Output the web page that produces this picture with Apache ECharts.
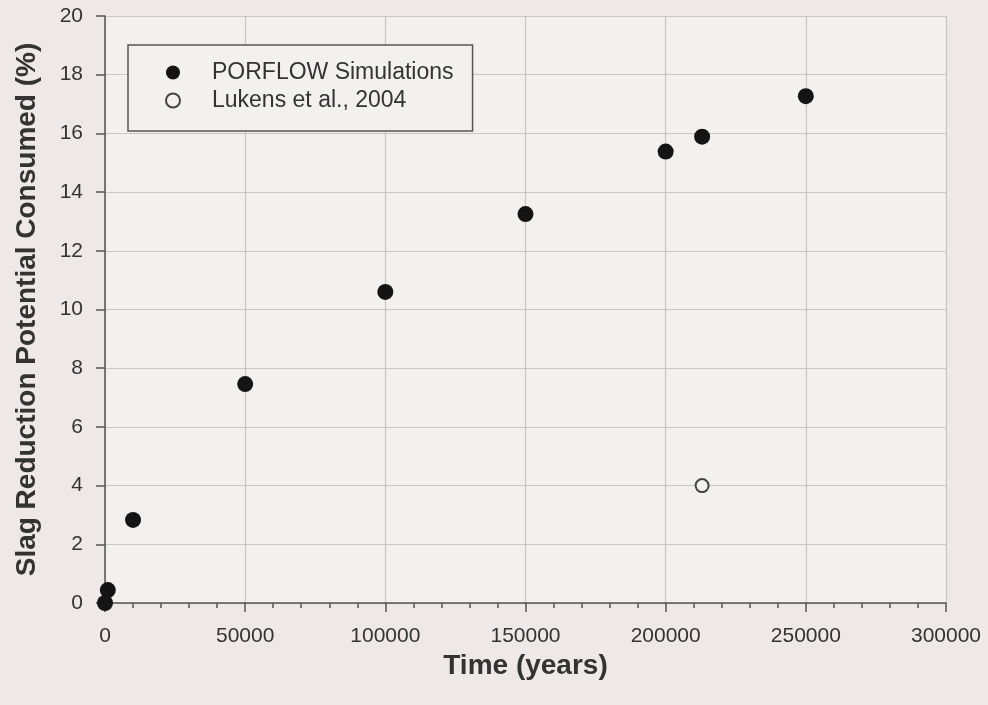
<!DOCTYPE html>
<html>
<head>
<meta charset="utf-8">
<script src="https://cdn.jsdelivr.net/npm/echarts@6/dist/echarts.min.js"></script>
<style>html,body{margin:0;padding:0;background:#eee8e8;}#c{width:988px;height:705px;}</style>
</head>
<body>
<div id="c"></div>
<script>
const porflowTime = [0, 1000, 10000, 50000, 100000, 150000, 200000, 213000, 250000];
const porflowValue = [0, 0.44, 2.83, 7.46, 10.6, 13.25, 15.38, 15.89, 17.27];
const lukensTime = [213000];
const lukensValue = [4.0];
const seriesNames = ['PORFLOW Simulations', 'Lukens et al., 2004'];
const xTicks = [0, 50000, 100000, 150000, 200000, 250000, 300000];
const yTicks = [0, 2, 4, 6, 8, 10, 12, 14, 16, 18, 20];

const font = '"Liberation Sans", Arial, sans-serif';
const chart = echarts.init(document.getElementById('c'), null, {renderer: 'canvas'});
chart.setOption({
  backgroundColor: '#eee8e8',
  animation: false,
  grid: {left: 105, right: 42, top: 16, bottom: 102, show: true, backgroundColor: '#f3f0f0', borderWidth: 0},
  legend: {
    orient: 'vertical', left: 128, top: 45,
    padding: [16, 19, 19, 37],
    itemGap: 5, itemWidth: 14, itemHeight: 14,
    borderColor: '#555', borderWidth: 1.5, backgroundColor: '#f3f0f0',
    textStyle: {fontFamily: font, fontSize: 23, color: '#333', lineHeight: 23, padding: [0, 0, 0, 27]},
    data: [
      {name: seriesNames[0], icon: 'circle'},
      {name: seriesNames[1], icon: 'circle'}
    ]
  },
  xAxis: {
    type: 'value', min: xTicks[0], max: xTicks[xTicks.length - 1], interval: 50000,
    name: 'Time (years)', nameLocation: 'middle', nameGap: 36,
    nameTextStyle: {fontFamily: font, fontSize: 28, fontWeight: 'bold', color: '#333'},
    axisLine: {show: true, onZero: false, lineStyle: {color: '#555', width: 1.5}},
    axisTick: {show: true, inside: false, length: 9, lineStyle: {color: '#555', width: 1.5}},
    minorTick: {show: true, splitNumber: 5, length: 5, lineStyle: {color: '#555', width: 1.5}},
    axisLabel: {fontFamily: font, fontSize: 21, color: '#333', margin: 23, formatter: v => String(v)},
    splitLine: {show: true, lineStyle: {color: '#c9c6c6', width: 1.2}}
  },
  yAxis: {
    type: 'value', min: yTicks[0], max: yTicks[yTicks.length - 1], interval: 2,
    name: 'Slag Reduction Potential Consumed (%)', nameLocation: 'middle', nameGap: 64,
    nameTextStyle: {fontFamily: font, fontSize: 28, fontWeight: 'bold', color: '#333'},
    axisLine: {show: true, onZero: false, lineStyle: {color: '#555', width: 1.5}},
    axisTick: {show: true, inside: false, length: 9, lineStyle: {color: '#555', width: 1.5}},
    axisLabel: {fontFamily: font, fontSize: 21, color: '#333', margin: 22, formatter: v => String(v)},
    splitLine: {show: true, lineStyle: {color: '#c9c6c6', width: 1.2}}
  },
  series: [
    {
      name: seriesNames[0], type: 'scatter', symbol: 'circle', symbolSize: 16,
      itemStyle: {color: '#141414', opacity: 1},
      data: porflowTime.map((t, i) => [t, porflowValue[i]]),
      z: 3
    },
    {
      name: seriesNames[1], type: 'scatter', symbol: 'circle', symbolSize: 13,
      itemStyle: {color: 'rgba(243,240,240,1)', borderColor: '#444', borderWidth: 2, opacity: 1},
      data: lukensTime.map((t, i) => [t, lukensValue[i]]),
      z: 3
    }
  ]
});
</script>
</body>
</html>
